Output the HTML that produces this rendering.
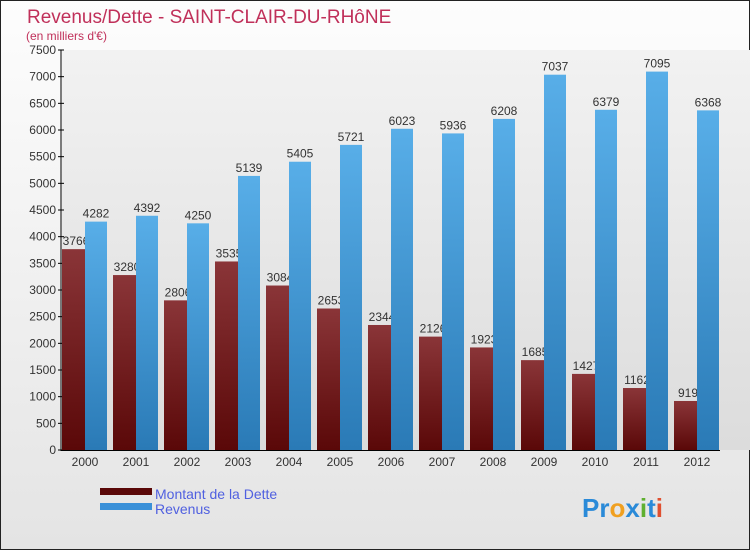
<!DOCTYPE html>
<html><head><meta charset="utf-8"><style>
body{margin:0;}
svg{display:block;font-family:"Liberation Sans",sans-serif;}
</style></head><body>
<svg id="chart" width="750" height="550">
<defs>
<linearGradient id="bg" x1="0" y1="0" x2="0" y2="1"><stop offset="0" stop-color="#fdfdfd"/><stop offset="1" stop-color="#e4e4e4"/></linearGradient>
<linearGradient id="plot" x1="0" y1="0" x2="0" y2="1"><stop offset="0" stop-color="#f2f2f2"/><stop offset="1" stop-color="#dcdcdc"/></linearGradient>
<linearGradient id="debt" x1="0" y1="0" x2="0" y2="1"><stop offset="0" stop-color="#8a3538"/><stop offset="1" stop-color="#5a0808"/></linearGradient>
<linearGradient id="rev" x1="0" y1="0" x2="0" y2="1"><stop offset="0" stop-color="#58aee8"/><stop offset="1" stop-color="#2a7ab6"/></linearGradient>
</defs>
<rect x="0.5" y="0.5" width="749" height="549" fill="url(#bg)" stroke="#222"/>
<rect x="62" y="50" width="688" height="400" fill="url(#plot)"/>
<text x="27" y="23" font-size="19" fill="#c0305a">Revenus/Dette - SAINT-CLAIR-DU-RHôNE</text>
<text x="26" y="40" font-size="12" fill="#c0305a">(en milliers d'€)</text>
<g id="axes"></g>
<g id="bars"></g>
<rect x="100" y="488" width="52" height="7" fill="#5a0808"/>
<text x="155" y="499" font-size="14" fill="#5060e0">Montant de la Dette</text>
<rect x="100" y="503" width="52" height="7" fill="#3a90d8"/>
<text x="155" y="514" font-size="14" fill="#5060e0">Revenus</text>
<text x="582" y="517" font-size="26" font-weight="bold"><tspan fill="#2a8ad8">Pr</tspan><tspan fill="#f0a020">o</tspan><tspan fill="#2a8ad8">x</tspan><tspan fill="#60b030">i</tspan><tspan fill="#2a8ad8">t</tspan><tspan fill="#e05030">i</tspan></text>
</svg>
<script>
const years=["2000","2001","2002","2003","2004","2005","2006","2007","2008","2009","2010","2011","2012"];
const debt=[3766,3280,2806,3535,3084,2653,2344,2126,1923,1685,1427,1162,919];
const revenue=[4282,4392,4250,5139,5405,5721,6023,5936,6208,7037,6379,7095,6368];
const yTicks=[0,500,1000,1500,2000,2500,3000,3500,4000,4500,5000,5500,6000,6500,7000,7500];
const NS="http://www.w3.org/2000/svg";
const y=v=>450-v*400/7500;
const x0=i=>62+i*51;
const axes=document.getElementById('axes'),bars=document.getElementById('bars');
function mk(tag,attrs,parent,txt){const e=document.createElementNS(NS,tag);for(const k in attrs)e.setAttribute(k,attrs[k]);if(txt!==undefined)e.textContent=txt;parent.appendChild(e);return e;}
let l=mk('line',{x1:61,y1:50,x2:61,y2:451,stroke:'#000'},axes);


l=mk('line',{x1:61,y1:450.5,x2:720,y2:450.5,stroke:'#000'},axes);


yTicks.forEach(v=>{
 let t=mk('line',{x1:58,x2:64,y1:y(v),y2:y(v),stroke:'#000'},axes);
 
 
 let tx=mk('text',{x:56,y:y(v)+4,'font-size':12,'text-anchor':'end',fill:'#333'},axes,String(v));
 
 
});
years.forEach((yr,i)=>{
 let t=mk('text',{x:x0(i)+23,y:466,'font-size':12,'text-anchor':'middle',fill:'#333'},axes,yr);
 
 
 let b=mk('rect',{x:x0(i),y:y(debt[i]),width:23,height:450-y(debt[i]),fill:'url(#debt)'},bars);
 
 
 let dl=mk('text',{x:x0(i)+14,y:y(debt[i])-4,'font-size':12,'text-anchor':'middle',fill:'#333'},bars,String(debt[i]));
 
 
});
years.forEach((yr,i)=>{
 let b=mk('rect',{x:x0(i)+23,y:y(revenue[i]),width:22,height:450-y(revenue[i]),fill:'url(#rev)'},bars);
 
 
 let rl=mk('text',{x:x0(i)+34,y:y(revenue[i])-4,'font-size':12,'text-anchor':'middle',fill:'#333'},bars,String(revenue[i]));
 
 
});
</script>
</body></html>
